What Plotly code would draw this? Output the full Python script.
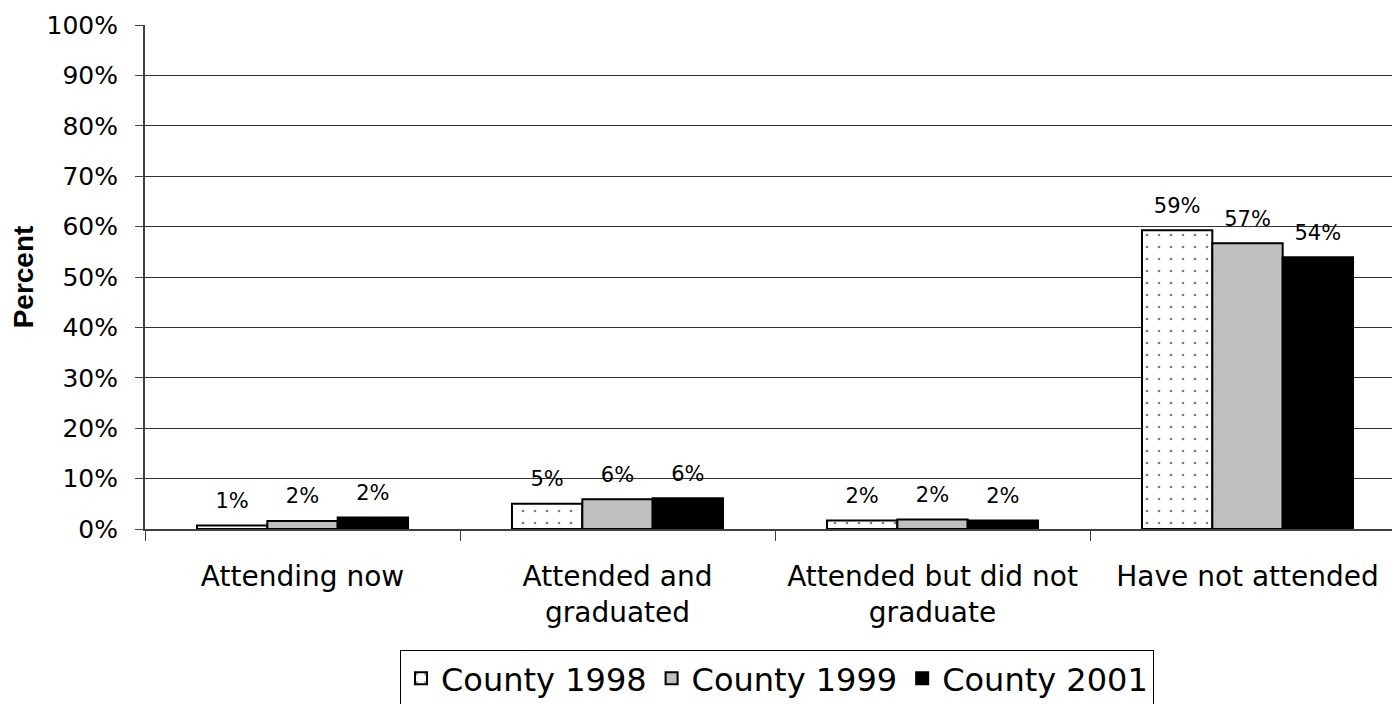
import plotly.graph_objects as go

categories = ["Attending now", "Attended and<br>graduated", "Attended but did not<br>graduate", "Have not attended"]
series_names = ["County 1998", "County 1999", "County 2001"]
county_1998 = [0.7, 5.0, 1.7, 59.3]
county_1999 = [1.6, 5.9, 1.9, 56.7]
county_2001 = [2.3, 6.1, 1.7, 53.9]
y_ticks = [0, 10, 20, 30, 40, 50, 60, 70, 80, 90, 100]

FONT = "DejaVu Sans"
BARGAP = 0.33

fig = go.Figure()
styles = [
    dict(color="white", pattern=dict(shape=".", fgcolor="black", bgcolor="white", size=12, solidity=0.04)),
    dict(color="#C0C0C0"),
    dict(color="black"),
]
groups = ["g1", "g2", "g3"]
all_vals = [county_1998, county_1999, county_2001]
for name, vals, st, g in zip(series_names, all_vals, styles, groups):
    fig.add_trace(go.Bar(
        x=categories, y=vals, name=name, offsetgroup=g,
        marker=dict(line=dict(color="black", width=2), **st),
    ))
for name, vals, g in zip(series_names, all_vals, groups):
    fig.add_trace(go.Scatter(
        x=categories, y=vals, name=name, offsetgroup=g, showlegend=False,
        mode="markers+text", marker=dict(size=18, opacity=0),
        texttemplate="%{y:.0f}%", textposition="top center",
        textfont=dict(family=FONT, size=21, color="black"),
        cliponaxis=False, hoverinfo="skip",
    ))

fig.update_layout(
    width=1392, height=696,
    margin=dict(l=137, r=0, t=17, b=175, autoexpand=False),
    paper_bgcolor="white", plot_bgcolor="white",
    barmode="group", bargap=BARGAP, bargroupgap=0,
    scattermode="group", scattergap=BARGAP,
    font=dict(family=FONT, color="black"),
    showlegend=True,
    legend=dict(
        orientation="h", x=0.5036, xanchor="center", y=-0.24, yanchor="top",
        bordercolor="black", borderwidth=1, font=dict(family=FONT, size=32),
        itemsizing="constant", itemwidth=30, tracegroupgap=0,
    ),
)
fig.update_xaxes(
    range=[-0.5, -0.5 + 1255 / 315],
    showline=True, linecolor="#404040", linewidth=2,
    ticks="outside", ticklen=10, tickcolor="#404040", tickwidth=1,
    tickson="boundaries", showgrid=False,
    tickfont=dict(family=FONT, size=28, color="black"),
    ticklabelstandoff=21,
)
fig.update_yaxes(
    range=[0, 100], tickvals=y_ticks, ticktext=[f"{v}%" for v in y_ticks],
    showline=True, linecolor="#404040", linewidth=2,
    ticks="outside", ticklen=8, tickcolor="#404040",
    showgrid=True, gridcolor="#303030", gridwidth=1,
    tickfont=dict(family=FONT, size=25, color="black"),
    ticklabelstandoff=12,
    title=dict(text="<b>Percent</b>", font=dict(family="Liberation Sans", size=28, color="black"), standoff=14),
    zeroline=False,
)
fig.write_html("out.html")
